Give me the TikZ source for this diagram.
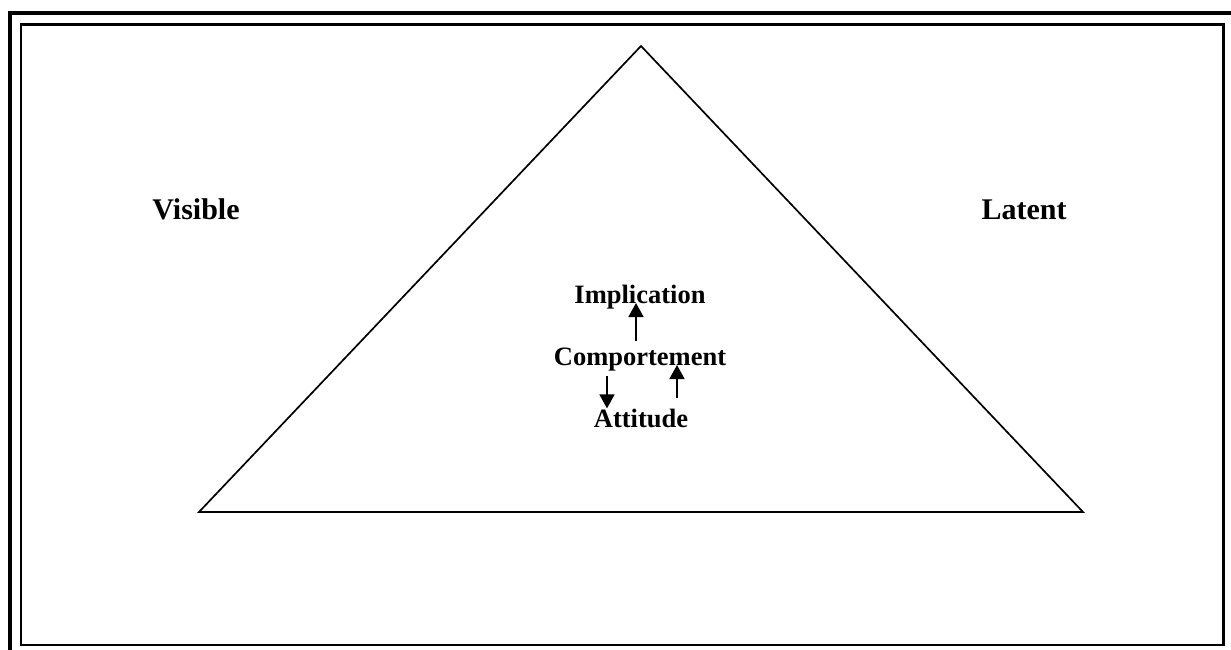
\documentclass[tikz,border=0pt]{standalone}
\usepackage{fontspec}
\setmainfont{Liberation Serif}
\usetikzlibrary{arrows.meta}

\begin{document}
\begin{tikzpicture}[
    x=1pt, y=-1pt,
    side/.style={font=\fontsize{30}{36}\selectfont\bfseries, inner sep=0pt, anchor=base},
    level/.style={font=\fontsize{26.5}{32}\selectfont\bfseries, inner sep=0pt, anchor=base},
    arr/.style={line width=1.6pt, -{Triangle[width=15pt,length=14pt]}}
]
\useasboundingbox (0,0) rectangle (1231,650);

% Frame (thick outer edge on left and top)
\draw [line width=4pt] (10,650) -- (10,13) -- (1231,13);
\draw [line width=2.5pt] (21,24.3) rectangle (1223.3,645);

% Triangle
\draw [line width=1.7pt] (199,512) -- (641,46) -- (1083,512) -- cycle;

% Side labels
\node (visible) at (196,219) [side] {Visible};
\node (latent) at (1024,219) [side] {Latent};

% Levels inside the triangle
\node (impl) at (640,303) [level] {Implication};
\node (comp) at (640,365) [level] {Comportement};
\node (att) at (641,427) [level] {Attitude};

% Arrows between levels
\draw [arr] ([xshift=-4pt,yshift=6pt]comp.north) -- ([xshift=-4pt]impl.base);
\draw [arr] ([xshift=-33pt,yshift=-5pt]comp.south) -- ([xshift=-34pt]att.north);
\draw [arr] ([xshift=36pt,yshift=10pt]att.north) -- ([xshift=37pt]comp.base);

\end{tikzpicture}
\end{document}
